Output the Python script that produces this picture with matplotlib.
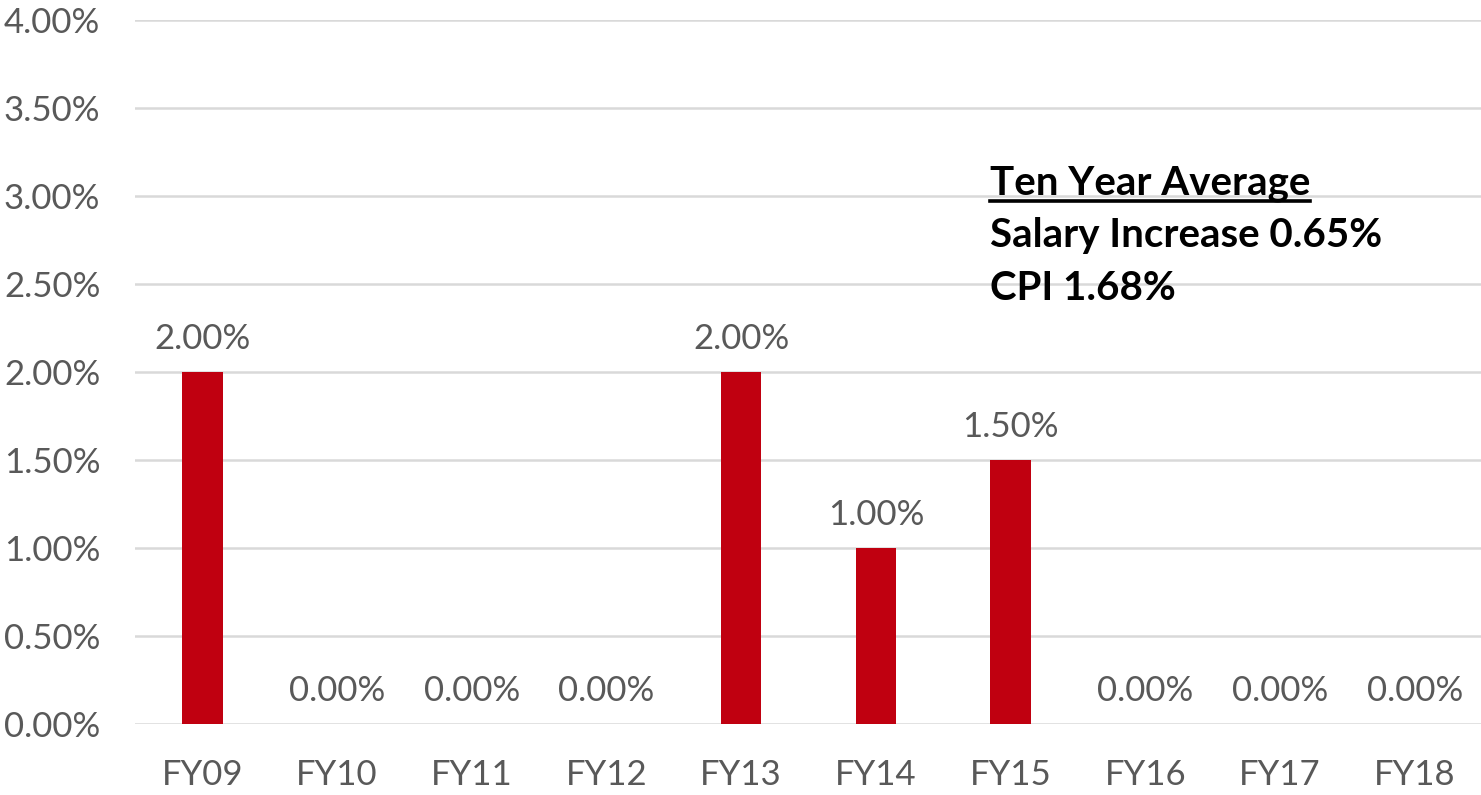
import matplotlib
matplotlib.use("Agg")
import matplotlib.pyplot as plt
from matplotlib.lines import Line2D
from matplotlib.ticker import FuncFormatter, MultipleLocator

# Data
years = ["FY09", "FY10", "FY11", "FY12", "FY13", "FY14", "FY15", "FY16", "FY17", "FY18"]
increase = [2.00, 0.00, 0.00, 0.00, 2.00, 1.00, 1.50, 0.00, 0.00, 0.00]  # percent
note_title = "Ten Year Average"
note_lines = ["Salary Increase 0.65%", "CPI 1.68%"]

bar_color = "#C00010"
text_gray = "#595959"
grid_gray = "#D9D9D9"

plt.rcParams['font.family'] = ['Lato', 'DejaVu Sans']

W, H = 1481, 795
fig = plt.figure(figsize=(W / 100, H / 100), dpi=100)
ax = fig.add_axes([135 / W, 71 / H, 1347 / W, 704 / H])

x = list(range(len(years)))
bars = ax.bar(x, increase, width=0.3, color=bar_color, zorder=3)

ax.set_xlim(-0.5, len(years) - 0.5)
ax.set_ylim(0, 4.0)
ax.yaxis.set_major_locator(MultipleLocator(0.5))
ax.yaxis.set_major_formatter(FuncFormatter(lambda v, p: f"{v:.2f}%"))
ax.set_xticks(x)
ax.set_xticklabels(years)

ax.grid(axis='y', color=grid_gray, linewidth=1.8, zorder=0)
ax.set_axisbelow(True)
for s in ax.spines.values():
    s.set_visible(False)
ax.tick_params(axis='both', length=0, labelsize=25, labelcolor=text_gray)
ax.tick_params(axis='x', pad=25)
ax.tick_params(axis='y', pad=25)

ax.bar_label(bars, labels=[f"{v:.2f}%" for v in increase], padding=12,
             fontsize=25, color=text_gray)

# Ten year average note
tx = (990 - 135) / 1347
title = ax.text(tx, (724 - 194) / 704, note_title, transform=ax.transAxes,
                fontsize=29, fontweight='bold', color='black', va='baseline')
ax.text(tx, (724 - 247) / 704, note_lines[0], transform=ax.transAxes,
        fontsize=29, fontweight='bold', color='black', va='baseline')
ax.text(tx, (724 - 300) / 704, note_lines[1], transform=ax.transAxes,
        fontsize=29, fontweight='bold', color='black', va='baseline')

# underline the title
fig.canvas.draw()
bb = title.get_window_extent(fig.canvas.get_renderer())
uy = (H - 201) / H
fig.add_artist(Line2D([bb.x0 / W, bb.x1 / W], [uy, uy], color='black',
                      linewidth=2.6, transform=fig.transFigure))

fig.savefig("out.png", dpi=100)
